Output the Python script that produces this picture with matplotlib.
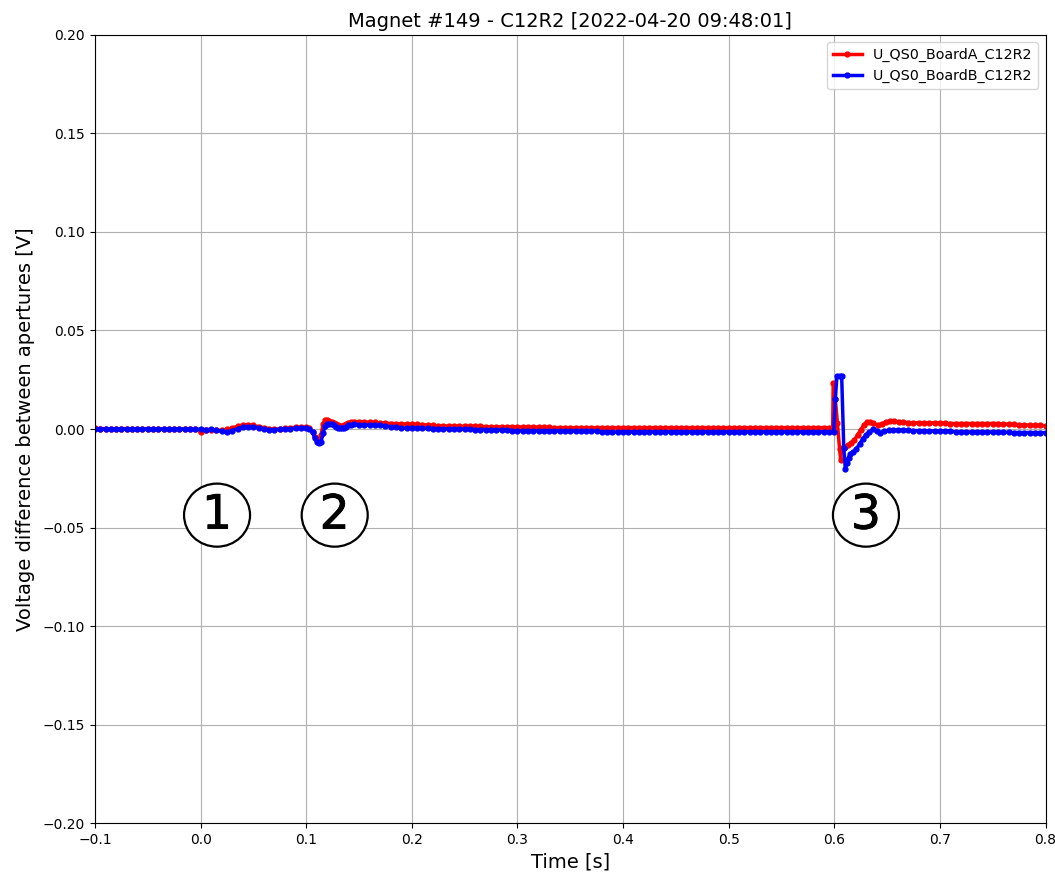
import numpy as np
import matplotlib.pyplot as plt
import matplotlib.patheffects as pe
from matplotlib.patches import Ellipse

# sampling grids for the quiet parts of the record [s]
t_pre = np.round(np.arange(-0.100, 0.1001, 0.005), 4)   # 41 samples
t_mid = np.round(np.arange(0.150, 0.5951, 0.005), 4)    # 90 samples
t_end = np.round(np.arange(0.665, 0.8001, 0.005), 4)    # 28 samples

# board A (red), voltage difference in mV
a_pre = [0.3, 0.2, 0.2, 0.1, 0.1, 0.2, 0.2, 0.0, 0.0, 0.1,
         0.2, 0.1, 0.0, 0.0, 0.1, 0.1, 0.0, 0.1, 0.2, 0.1,
         -1.5, -0.5, -0.3, -0.6, -0.6, -0.2, 0.5, 1.4, 2.0, 2.2,
         1.8, 1.2, 0.6, 0.2, 0.0, 0.1, 0.3, 0.6, 0.9, 1.0, 1.0]
ta_ev1 = [0.103, 0.106, 0.108, 0.110, 0.112, 0.114, 0.116, 0.118, 0.120, 0.122,
          0.124, 0.126, 0.128, 0.130, 0.132, 0.134, 0.136, 0.138, 0.140, 0.142, 0.145]
a_ev1 = [0.6, -1.5, -4.0, -5.5, -6.2, -3.0, 2.5, 4.6, 4.8, 4.3,
         3.6, 3.0, 2.5, 2.0, 1.6, 1.7, 2.0, 2.6, 3.2, 3.5, 3.8]
a_mid = [3.7, 3.6, 3.4, 3.4, 3.2, 3.0, 2.8, 2.7, 2.6, 2.5,
         2.4, 2.3, 2.2, 2.0, 1.8, 1.6, 1.5, 1.5, 1.5, 1.4,
         1.4, 1.4, 1.4, 1.3, 1.2, 1.1, 1.1, 1.1, 1.1, 1.1,
         1.1, 1.0, 1.0, 1.0, 1.0, 1.0, 0.8, 0.7, 0.7, 0.7,
         0.7, 0.7, 0.7, 0.7, 0.7, 0.7, 0.7, 0.7, 0.7, 0.7,
         0.7, 0.7, 0.7, 0.7, 0.7, 0.7, 0.7, 0.7, 0.7, 0.7,
         0.7, 0.7, 0.7, 0.7, 0.7, 0.7, 0.7, 0.7, 0.7, 0.7,
         0.7, 0.7, 0.7, 0.7, 0.7, 0.7, 0.7, 0.7, 0.7, 0.7,
         0.7, 0.7, 0.7, 0.7, 0.7, 0.7, 0.7, 0.7, 0.7, 0.7]
ta_ev2 = [0.5985, 0.599, 0.601, 0.603, 0.605, 0.606, 0.607, 0.610, 0.613, 0.616,
          0.619, 0.622, 0.625, 0.628, 0.631, 0.634, 0.637, 0.641, 0.645, 0.649,
          0.653, 0.657, 0.661]
a_ev2 = [0.7, 23.5, 15.0, 3.0, -10.0, -15.5, -9.6, -9.0, -8.1, -7.0,
         -5.6, -3.0, -0.5, 2.0, 3.7, 3.5, 3.0, 2.0, 2.6, 3.7,
         3.9, 4.0, 3.6]
a_end = [3.4, 3.3, 3.2, 3.2, 3.2, 3.2, 3.1, 3.0, 2.9, 2.8,
         2.8, 2.8, 2.8, 2.8, 2.8, 2.8, 2.8, 2.8, 2.8, 2.6,
         2.4, 2.3, 2.2, 2.1, 2.0, 1.9, 1.8, 1.7]

# board B (blue), voltage difference in mV
b_pre = [0.1, 0.0, 0.0, 0.1, 0.1, 0.0, 0.0, -0.1, -0.1, 0.0,
         0.0, -0.1, -0.1, 0.0, 0.0, -0.1, -0.1, 0.0, 0.0, -0.1,
         -0.1, -0.3, -0.2, -0.6, -1.2, -1.5, -0.8, 0.2, 0.9, 1.2,
         1.0, 0.6, 0.0, -0.4, -0.3, -0.2, 0.0, 0.2, 0.3, 0.4, 0.4]
tb_ev1 = ta_ev1
b_ev1 = [0.0, -1.5, -4.5, -6.5, -7.0, -6.8, -2.0, 1.5, 2.6, 2.6,
         2.4, 1.8, 1.2, 0.7, 0.3, 0.4, 0.6, 1.2, 1.8, 2.1, 2.4]
b_mid = [2.2, 2.1, 2.0, 2.0, 1.8, 1.5, 1.2, 0.9, 0.6, 0.5,
         0.4, 0.3, 0.3, 0.3, 0.2, 0.2, 0.1, 0.1, 0.1, 0.0,
         -0.2, -0.2, -0.3, -0.3, -0.3, -0.4, -0.4, -0.4, -0.5, -0.8,
         -0.9, -0.9, -0.9, -0.9, -0.9, -0.9, -0.9, -0.9, -0.9, -0.9,
         -1.0, -1.0, -1.0, -1.0, -1.0, -1.0, -1.5, -1.5, -1.5, -1.5,
         -1.4, -1.4, -1.4, -1.4, -1.4, -1.4, -1.4, -1.4, -1.4, -1.4,
         -1.4, -1.4, -1.4, -1.4, -1.4, -1.4, -1.4, -1.4, -1.4, -1.4,
         -1.4, -1.4, -1.4, -1.4, -1.4, -1.4, -1.4, -1.4, -1.4, -1.4,
         -1.4, -1.4, -1.4, -1.4, -1.4, -1.4, -1.4, -1.4, -1.4, -1.4]
tb_ev2 = [0.5995, 0.601, 0.6025, 0.605, 0.607, 0.609, 0.6105, 0.612, 0.6135, 0.615,
          0.618, 0.621, 0.624, 0.627, 0.630, 0.633, 0.637, 0.640, 0.643, 0.647,
          0.652, 0.656, 0.660]
b_ev2 = [-1.4, 15.0, 27.0, 27.0, 27.0, -9.6, -20.5, -17.0, -14.5, -12.5,
         -11.5, -10.0, -7.5, -5.0, -3.0, -1.6, -0.2, -0.8, -2.0, -1.2,
         -0.5, -0.5, -0.5]
b_end = [-0.6, -0.7, -0.8, -0.8, -0.8, -0.9, -1.0, -1.0, -1.1, -1.2,
         -1.4, -1.5, -1.5, -1.5, -1.5, -1.5, -1.5, -1.5, -1.6, -1.6,
         -1.7, -1.8, -1.8, -1.8, -1.8, -1.8, -1.8, -1.8]

t_a = np.concatenate([t_pre, ta_ev1, t_mid, ta_ev2, t_end])
u_a = np.concatenate([a_pre, a_ev1, a_mid, a_ev2, a_end]) / 1000.0
t_b = np.concatenate([t_pre, tb_ev1, t_mid, tb_ev2, t_end])
u_b = np.concatenate([b_pre, b_ev1, b_mid, b_ev2, b_end]) / 1000.0

# circled event numbers
mark_x = [0.0156, 0.127, 0.630]
mark_y = -0.0437
mark_txt = ['1', '2', '3']

fig, ax = plt.subplots(figsize=(10.55, 8.72), dpi=100)
fig.subplots_adjust(left=0.09, right=0.991, top=0.96, bottom=0.056)

ax.plot(t_a, u_a, color='red', marker='.', ms=7, lw=2.5, label='U_QS0_BoardA_C12R2')
ax.plot(t_b, u_b, color='blue', marker='.', ms=7, lw=2.5, label='U_QS0_BoardB_C12R2')

for x, s in zip(mark_x, mark_txt):
    ax.add_patch(Ellipse((x, mark_y), 0.0625, 0.032, fc='white', ec='black', lw=1.6, zorder=5))
    ax.text(x, mark_y - 0.0005, s, fontsize=34, family='DejaVu Sans', ha='center', va='center',
            zorder=6, path_effects=[pe.withStroke(linewidth=0.6, foreground='black')])

ax.set_xlim(-0.1, 0.8)
ax.set_ylim(-0.2, 0.2)
ax.grid(True)
ax.set_xlabel('Time [s]', fontsize=14)
ax.set_ylabel('Voltage difference between apertures [V]', fontsize=14, labelpad=6)
ax.set_title('Magnet #149 - C12R2 [2022-04-20 09:48:01]', fontsize=14)
ax.legend(loc='upper right', fontsize=10.3)

plt.savefig('out.png')
